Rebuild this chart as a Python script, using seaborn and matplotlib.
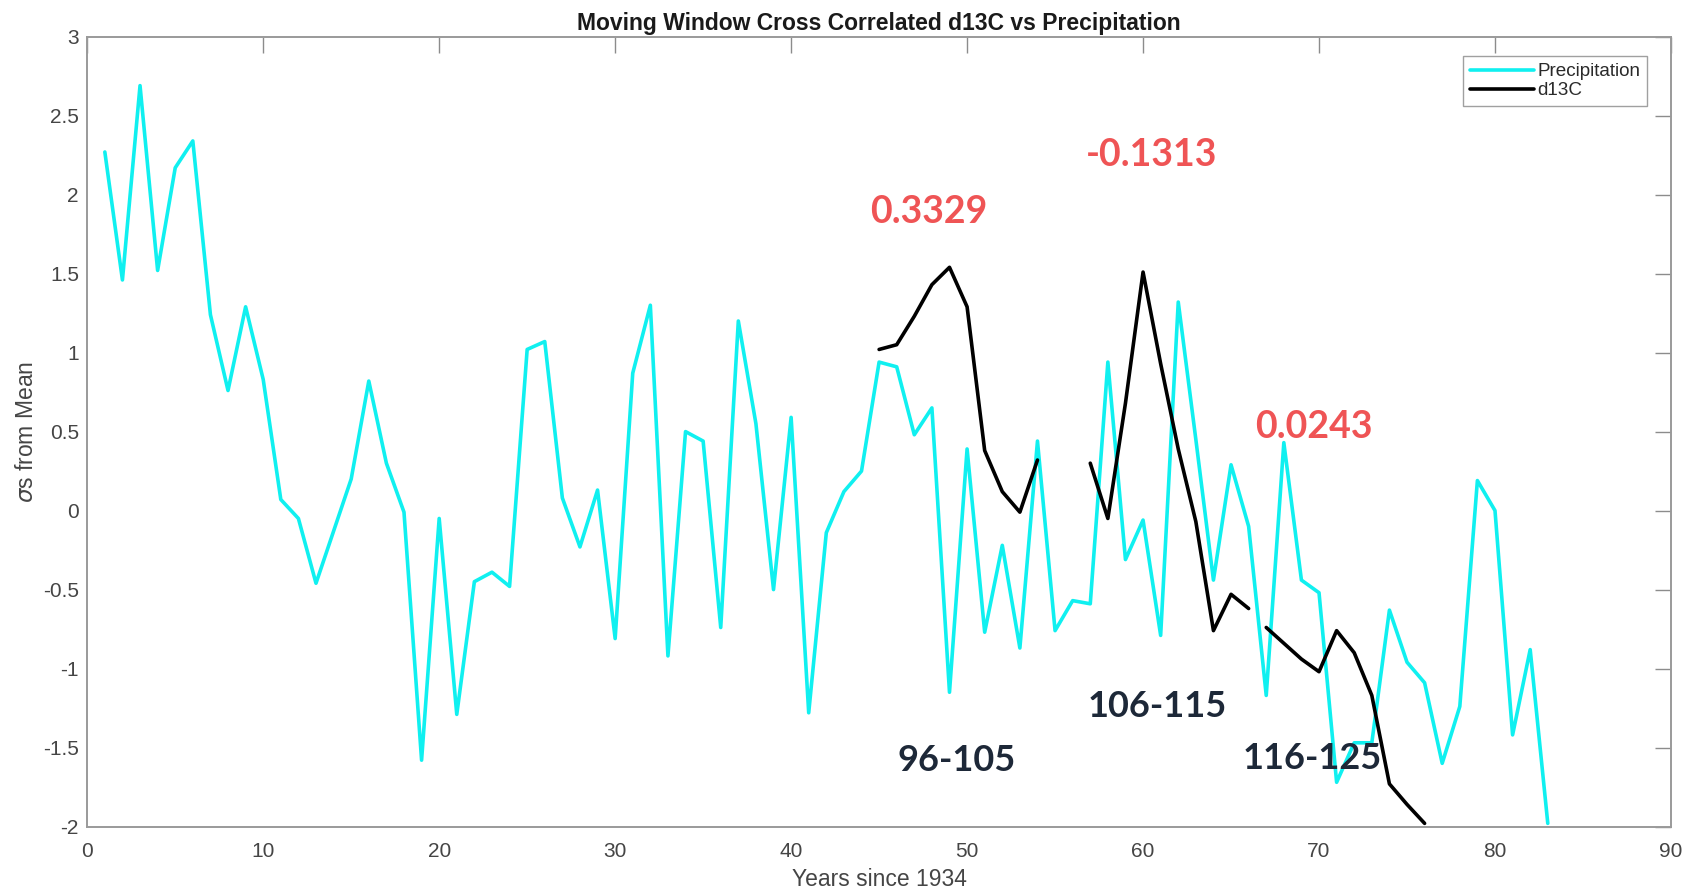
import numpy as np
import pandas as pd
import matplotlib
matplotlib.use("Agg")
import matplotlib.pyplot as plt
from matplotlib.lines import Line2D
import seaborn as sns

# ---------------- data ----------------
years = list(range(1, 84))
precip = [2.27, 1.46, 2.69, 1.52, 2.17, 2.34, 1.24, 0.76, 1.29, 0.83,
          0.07, -0.05, -0.46, -0.13, 0.20, 0.82, 0.30, -0.01, -1.58, -0.05,
          -1.29, -0.45, -0.39, -0.48, 1.02, 1.07, 0.08, -0.23, 0.13, -0.81,
          0.87, 1.30, -0.92, 0.50, 0.44, -0.74, 1.20, 0.55, -0.50, 0.59,
          -1.28, -0.14, 0.12, 0.25, 0.94, 0.91, 0.48, 0.65, -1.15, 0.39,
          -0.77, -0.22, -0.87, 0.44, -0.76, -0.57, -0.59, 0.94, -0.31, -0.06,
          -0.79, 1.32, 0.45, -0.44, 0.29, -0.10, -1.17, 0.43, -0.44, -0.52,
          -1.72, -1.47, -1.47, -0.63, -0.96, -1.09, -1.60, -1.24, 0.19, 0.00,
          -1.42, -0.88, -1.98]

d13c_years_1 = list(range(45, 55))
d13c_1 = [1.02, 1.05, 1.23, 1.43, 1.54, 1.29, 0.38, 0.12, -0.01, 0.32]
d13c_years_2 = list(range(57, 67))
d13c_2 = [0.30, -0.05, 0.68, 1.51, 0.93, 0.39, -0.07, -0.76, -0.53, -0.62]
d13c_years_3 = list(range(67, 77))
d13c_3 = [-0.74, -0.84, -0.94, -1.02, -0.76, -0.90, -1.17, -1.73, -1.86, -1.98]

windows = ["96-105", "106-115", "116-125"]
correlations = ["0.3329", "-0.1313", "0.0243"]

# ---------------- tables ----------------
precip_df = pd.DataFrame({"year": years, "sigma": precip})
d13c_df = pd.concat([
    pd.DataFrame({"year": d13c_years_1, "sigma": d13c_1, "window": windows[0]}),
    pd.DataFrame({"year": d13c_years_2, "sigma": d13c_2, "window": windows[1]}),
    pd.DataFrame({"year": d13c_years_3, "sigma": d13c_3, "window": windows[2]}),
], ignore_index=True)

# ---------------- style ----------------
sns.set_theme(style="white")
plt.rcParams["font.family"] = ["Liberation Sans", "DejaVu Sans"]
plt.rcParams["axes.unicode_minus"] = False

cyan = "#10f0f0"
red = "#ef5455"
navy = "#1d2838"
grey_txt = "#454545"
grey_ax = "#8c8c8c"
lw = 2.6

fig, ax = plt.subplots(figsize=(16.94, 8.92), dpi=100)
fig.subplots_adjust(left=0.0515, right=0.9864, bottom=0.0734, top=0.9589)

sns.lineplot(data=precip_df, x="year", y="sigma", color=cyan,
             linewidth=lw, ax=ax, legend=False)
sns.lineplot(data=d13c_df, x="year", y="sigma", units="window",
             estimator=None, color="black", linewidth=lw, ax=ax, legend=False)

ax.set_xlim(0, 90)
ax.set_ylim(-2, 3)
ax.set_xticks(np.arange(0, 91, 10))
ax.set_yticks(np.arange(-2, 3.01, 0.5))
ax.yaxis.set_major_formatter(matplotlib.ticker.FormatStrFormatter("%g"))

ax.tick_params(axis="both", direction="in", length=11.4, width=1.0,
               color=grey_ax, top=True, right=True, labelsize=15,
               labelcolor=grey_txt)
ax.tick_params(axis="x", pad=11)
ax.tick_params(axis="y", pad=6)
for sp in ax.spines.values():
    sp.set_color("#9a9a9a")
    sp.set_linewidth(1.4)

ax.set_title("Moving Window Cross Correlated d13C vs Precipitation",
             fontsize=16.5, fontweight="bold", color="#1a1a1a", pad=5)
ax.set_xlabel("Years since 1934", fontsize=16.5, color=grey_txt)
ax.set_ylabel(r"$\sigma$s from Mean", fontsize=16.5, color=grey_txt)
ax.xaxis.set_label_coords(0.5, -0.053)
ax.yaxis.set_label_coords(-0.031, 0.5)

# legend
handles = [Line2D([0], [0], color=cyan, lw=lw),
           Line2D([0], [0], color="black", lw=lw)]
leg = ax.legend(handles, ["Precipitation", "d13C"], loc="upper right",
                bbox_to_anchor=(0.985, 0.975), borderaxespad=0,
                frameon=True, fancybox=False, fontsize=13.6,
                handlelength=3.4, handletextpad=0.2, borderpad=0.35,
                labelspacing=0.1)
leg.get_frame().set_edgecolor("#888888")
leg.get_frame().set_linewidth(1.0)
for t in leg.get_texts():
    t.set_color("#2a2a2a")

# annotations: correlation per window, window year range
corr_pos = [(47.8, 1.89), (60.5, 2.25), (69.7, 0.53)]
win_pos = [(49.4, -1.58), (60.8, -1.24), (69.6, -1.57)]
for (cx, cy), c in zip(corr_pos, correlations):
    ax.text(cx, cy, c, ha="center", va="center", fontsize=27,
            fontweight="bold", family=["Lato", "DejaVu Sans"], color=red)
for (wx, wy), w in zip(win_pos, windows):
    ax.text(wx, wy, w, ha="center", va="center", fontsize=26,
            fontweight="bold", family=["Lato", "DejaVu Sans"], color=navy)

fig.savefig("out.png", dpi=100)
